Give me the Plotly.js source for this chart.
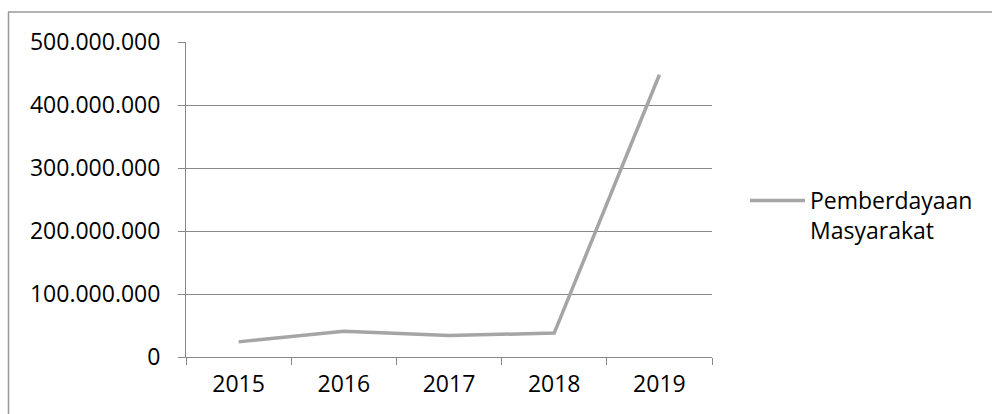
<!DOCTYPE html>
<html>
<head>
<meta charset="utf-8">
<script src="https://cdn.plot.ly/plotly-3.0.1.min.js"></script>
<style>
  html, body { margin: 0; padding: 0; background: #fff; }
  #chart { width: 992px; height: 414px; }
</style>
</head>
<body>
<div id="chart"></div>
<script>
const years = ['2015', '2016', '2017', '2018', '2019'];
const pemberdayaan = [24000000, 41000000, 34000000, 38000000, 448000000];
const seriesName = 'Pemberdayaan<br>Masyarakat';
const yTicks = [0, 100000000, 200000000, 300000000, 400000000, 500000000];
const yTickText = ['0', '100.000.000', '200.000.000', '300.000.000', '400.000.000', '500.000.000'];

const L = 186, R = 712, T = 42, B = 357;
const pw = R - L, ph = B - T;
const px = v => (v - L) / pw;
const py = v => (B - v) / ph;

const trace = {
  x: years,
  y: pemberdayaan,
  type: 'scatter',
  mode: 'lines',
  name: seriesName,
  line: { color: '#a5a5a5', width: 3.5 },
  showlegend: true
};

const font = { family: 'Open Sans, sans-serif', size: 23, color: '#000' };

const layout = {
  width: 992,
  height: 414,
  margin: { l: L, r: 992 - R, t: T, b: 414 - B, pad: 0 },
  paper_bgcolor: '#fff',
  plot_bgcolor: '#fff',
  font: font,
  xaxis: {
    type: 'category',
    range: [-0.5, 4.5],
    showgrid: false,
    zeroline: false,
    showline: true,
    linecolor: '#888',
    linewidth: 1,
    ticks: 'outside',
    ticklen: 7,
    tickcolor: '#888',
    tickson: 'boundaries',
    tickfont: font,
    ticklabelstandoff: 6,
    fixedrange: true
  },
  yaxis: {
    range: [0, 500000000],
    tickvals: yTicks,
    ticktext: yTickText,
    showgrid: true,
    gridcolor: '#888',
    gridwidth: 1,
    zeroline: false,
    showline: true,
    linecolor: '#888',
    linewidth: 1,
    ticks: 'outside',
    ticklen: 7,
    tickcolor: '#888',
    tickfont: font,
    ticklabelstandoff: 13,
    fixedrange: true
  },
  legend: {
    x: px(745),
    y: py(179),
    xanchor: 'left',
    yanchor: 'top',
    valign: 'top',
    font: font,
    bgcolor: 'rgba(0,0,0,0)',
    itemwidth: 55,
    tracegroupgap: 0
  },
  shapes: [
    { type: 'line', xref: 'paper', yref: 'paper', x0: px(8), x1: px(995), y0: py(12), y1: py(12), line: { color: '#999', width: 1.5 } },
    { type: 'line', xref: 'paper', yref: 'paper', x0: px(8.5), x1: px(8.5), y0: py(12), y1: py(420), line: { color: '#999', width: 1.5 } }
  ]
};

Plotly.newPlot('chart', [trace], layout, { displayModeBar: false, staticPlot: true });
</script>
</body>
</html>
